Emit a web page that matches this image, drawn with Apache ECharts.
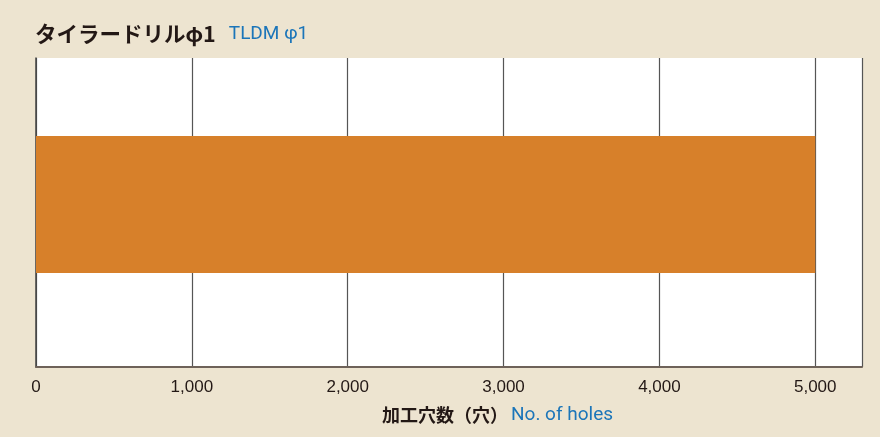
<!DOCTYPE html>
<html><head><meta charset="utf-8">
<script src="https://cdn.jsdelivr.net/npm/echarts@6/dist/echarts.min.js"></script>
<style>html,body{margin:0;padding:0;background:#ede4d0;}#c{width:880px;height:437px;}</style>
</head><body><div id="c"></div>
<script>
const categories = ['タイラードリルφ1'];
const holes = [5000];
const xTicks = [0, 1000, 2000, 3000, 4000, 5000];
const titleJa = 'タイラードリルφ1';
const titleEn = 'TLDM φ1';
const axisJa = '加工穴数（穴）';
const axisEn = 'No. of holes';

const chart = echarts.init(document.getElementById('c'));
chart.setOption({
  backgroundColor: '#ede4d0',
  animation: false,
  title: [{
    left: 30, top: 18,
    text: '{a|' + titleJa + '}{b|' + titleEn + '}',
    textStyle: { rich: {
      a: { fontFamily: 'Noto Sans CJK JP', fontWeight: 'bold', fontSize: 21.5, color: '#231815', padding: [0, 13, 0, 0] },
      b: { fontFamily: 'Roboto', fontWeight: 'normal', fontSize: 19, color: '#1b75b9' }
    } }
  }, {
    left: 377, top: 401,
    text: '{a|' + axisJa + '}{b|' + axisEn + '}',
    textStyle: { rich: {
      a: { fontFamily: 'Noto Sans CJK JP', fontWeight: 'bold', fontSize: 18, color: '#231815', padding: [0, 3, 0, 0] },
      b: { fontFamily: 'Roboto', fontWeight: 'normal', fontSize: 19, color: '#1b75b9' }
    } }
  }],
  grid: { left: 36, right: 18, top: 58, bottom: 70, show: true, backgroundColor: '#ffffff', borderWidth: 0, containLabel: false },
  xAxis: {
    type: 'value', min: 0, max: 5300, interval: 1000,
    axisLine: { show: true, lineStyle: { color: '#6e6259', width: 2 } },
    axisTick: { show: false },
    splitLine: { show: true, lineStyle: { color: '#555555', width: 1.2 } },
    axisLabel: {
      margin: 12, fontFamily: 'Liberation Sans', fontSize: 17, color: '#231815',
      formatter: v => xTicks.includes(v) ? v.toLocaleString('en-US') : ''
    }
  },
  yAxis: {
    type: 'category', data: categories,
    axisLine: { show: true, lineStyle: { color: '#444444', width: 1.5 } },
    axisTick: { show: false }, axisLabel: { show: false }, splitLine: { show: false }
  },
  series: [{
    type: 'bar', data: holes, barWidth: 137,
    itemStyle: { color: '#d7802a' }
  }, {
    type: 'bar', data: ['-'], barWidth: 16, barGap: '0%', silent: true,
    itemStyle: { color: 'rgba(0,0,0,0)' }
  }]
});
</script></body></html>
